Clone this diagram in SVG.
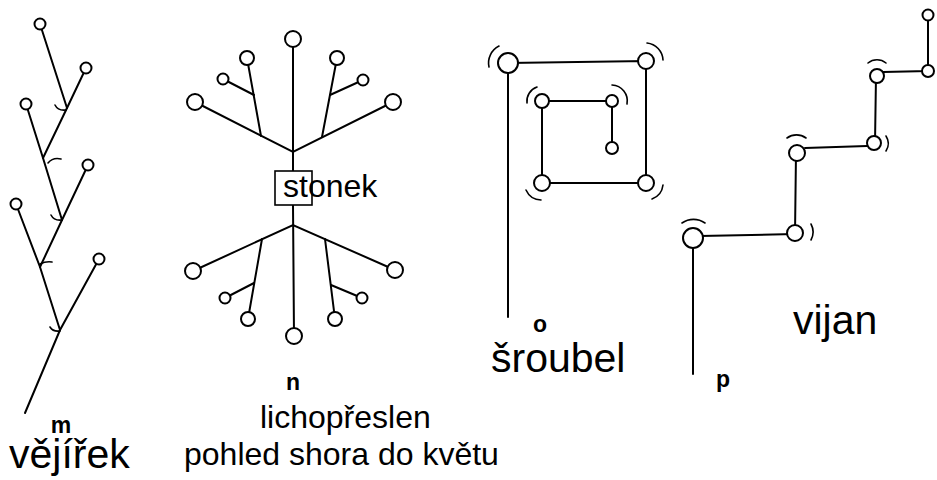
<svg xmlns="http://www.w3.org/2000/svg" width="937" height="480" viewBox="0 0 937 480">
<style>
.ln{stroke:#000;stroke-width:2;fill:none;stroke-linecap:round}
.tk{stroke:#000;stroke-width:1.6;fill:none;stroke-linecap:round}
.nd{stroke:#000;stroke-width:2;fill:#fff}
.big{font-family:"Liberation Sans",Arial,sans-serif;font-size:41px;fill:#000}
.mid{font-family:"Liberation Sans",Arial,sans-serif;font-size:32px;fill:#000}
.sm{font-family:"Liberation Sans",Arial,sans-serif;font-size:23px;font-weight:bold;fill:#000}
</style>
<rect width="937" height="480" fill="#fff"/>
<g id="connectors">
  <!-- m: vejirek -->
  <path class="ln" d="M40,24 L67,108"/>
  <path class="ln" d="M86,68 L67,108 L43,158"/>
  <path class="ln" d="M26,104 L43,158 L62,220"/>
  <path class="ln" d="M88,165 L62,220 L40,267"/>
  <path class="ln" d="M16,204 L40,267 L60,330"/>
  <path class="ln" d="M99,259 L60,330 L25,413"/>
  <!-- n: lichopreslen -->
  <path class="ln" d="M293,39 L293,171"/>
  <path class="ln" d="M195,102 L293,152 L393,102"/>
  <path class="ln" d="M261,136 L247,58"/>
  <path class="ln" d="M254,95 L223,79"/>
  <path class="ln" d="M322,137 L337,58"/>
  <path class="ln" d="M330,95 L363,80"/>
  <path class="ln" d="M293,205 L294,336"/>
  <path class="ln" d="M193,271 L293,225 L395,270"/>
  <path class="ln" d="M262,239 L248,319"/>
  <path class="ln" d="M254,283 L225,298"/>
  <path class="ln" d="M325,239 L335,319"/>
  <path class="ln" d="M331,285 L362,298"/>
  <!-- o: sroubel -->
  <path class="ln" d="M508,63 L508,317"/>
  <path class="ln" d="M508,63 L646,61 L646,183 L542,183 L542,101 L612,101 L612,148"/>
  <!-- p: vijan -->
  <path class="ln" d="M693,238 L693,374"/>
  <path class="ln" d="M700,236 L795,234"/>
  <path class="ln" d="M795,234 L796,153"/>
  <path class="ln" d="M805,148 L867,146"/>
  <path class="ln" d="M875,143 L876,76"/>
  <path class="ln" d="M883,72 L928,71 L928,15"/>
</g>
<g id="bract-marks">
  <path class="tk" d="M55,105 Q58,111 66,110"/>
  <path class="tk" d="M48,163 Q53,157 61,159"/>
  <path class="tk" d="M51,215 Q54,221 62,220"/>
  <path class="tk" d="M40,264 Q46,261 52,262"/>
  <path class="tk" d="M50,327 Q53,332 60,331"/>
  <path class="tk" d="M489,67 A19,19 0 0 1 499,46"/>
  <path class="tk" d="M647,43 A18,18 0 0 1 663,60"/>
  <path class="tk" d="M527,103 A15,15 0 0 1 537,87"/>
  <path class="tk" d="M612,85 A16,16 0 0 1 627,104"/>
  <path class="tk" d="M526,190 A17,17 0 0 0 541,200"/>
  <path class="tk" d="M663,185 A17,17 0 0 1 652,199"/>
  <path class="tk" d="M868,63 A14,14 0 0 1 886,63"/>
  <path class="tk" d="M886,136 A14,14 0 0 1 886,151"/>
  <path class="tk" d="M787,138 A16,16 0 0 1 806,138"/>
  <path class="tk" d="M811,224 A17,17 0 0 1 811,240"/>
  <path class="tk" d="M682,223 A20,20 0 0 1 705,223"/>
</g>
<!-- m nodes -->
<g id="m1"><circle class="nd" cx="40" cy="24" r="5.5"/></g>
<g id="m2"><circle class="nd" cx="86" cy="68" r="5.5"/></g>
<g id="m3"><circle class="nd" cx="26" cy="104" r="5.5"/></g>
<g id="m4"><circle class="nd" cx="88" cy="165" r="5.5"/></g>
<g id="m5"><circle class="nd" cx="16" cy="204" r="5.5"/></g>
<g id="m6"><circle class="nd" cx="99" cy="259" r="5.5"/></g>
<!-- n nodes -->
<g id="n-top"><circle class="nd" cx="293" cy="39" r="8"/></g>
<g id="n-ul"><circle class="nd" cx="195" cy="102" r="8"/></g>
<g id="n-ur"><circle class="nd" cx="393" cy="102" r="8"/></g>
<g id="n-ul2"><circle class="nd" cx="247" cy="58" r="7"/></g>
<g id="n-ul3"><circle class="nd" cx="223" cy="79" r="5.5"/></g>
<g id="n-ur2"><circle class="nd" cx="337" cy="58" r="7"/></g>
<g id="n-ur3"><circle class="nd" cx="363" cy="80" r="5.5"/></g>
<g id="n-bottom"><circle class="nd" cx="294" cy="336" r="8"/></g>
<g id="n-ll"><circle class="nd" cx="193" cy="271" r="8"/></g>
<g id="n-lr"><circle class="nd" cx="395" cy="270" r="8"/></g>
<g id="n-ll2"><circle class="nd" cx="248" cy="319" r="7"/></g>
<g id="n-ll3"><circle class="nd" cx="225" cy="298" r="5.5"/></g>
<g id="n-lr2"><circle class="nd" cx="335" cy="319" r="7"/></g>
<g id="n-lr3"><circle class="nd" cx="362" cy="298" r="5.5"/></g>
<g id="stonek">
  <rect x="275" y="171" width="37" height="34" fill="#fff" stroke="#000" stroke-width="1.6"/>
  <text class="mid" x="283" y="197">stonek</text>
</g>
<!-- o nodes -->
<g id="o1"><circle class="nd" cx="508" cy="63" r="10"/></g>
<g id="o2"><circle class="nd" cx="646" cy="61" r="8"/></g>
<g id="o3"><circle class="nd" cx="646" cy="183" r="8"/></g>
<g id="o4"><circle class="nd" cx="542" cy="183" r="8"/></g>
<g id="o5"><circle class="nd" cx="542" cy="101" r="7"/></g>
<g id="o6"><circle class="nd" cx="612" cy="101" r="6"/></g>
<g id="o7"><circle class="nd" cx="612" cy="148" r="6"/></g>
<!-- p nodes -->
<g id="p1"><circle class="nd" cx="693" cy="238" r="10"/></g>
<g id="p2"><circle class="nd" cx="795" cy="233" r="8"/></g>
<g id="p3"><circle class="nd" cx="797" cy="153" r="8"/></g>
<g id="p4"><circle class="nd" cx="874" cy="143" r="7"/></g>
<g id="p5"><circle class="nd" cx="877" cy="76" r="7"/></g>
<g id="p6"><circle class="nd" cx="928" cy="71" r="6"/></g>
<g id="p7"><circle class="nd" cx="928" cy="15" r="5.5"/></g>
<g id="labels">
  <text class="sm" x="61" y="433" text-anchor="middle">m</text>
  <text class="big" x="9" y="468">vějířek</text>
  <text class="sm" x="293" y="390" text-anchor="middle">n</text>
  <text class="mid" x="260" y="428">lichopřeslen</text>
  <text class="mid" x="184" y="465">pohled shora do květu</text>
  <text class="sm" x="540" y="332" text-anchor="middle">o</text>
  <text class="big" x="491" y="372">šroubel</text>
  <text class="sm" x="723" y="387" text-anchor="middle">p</text>
  <text class="big" x="793" y="334">vijan</text>
</g>
</svg>
